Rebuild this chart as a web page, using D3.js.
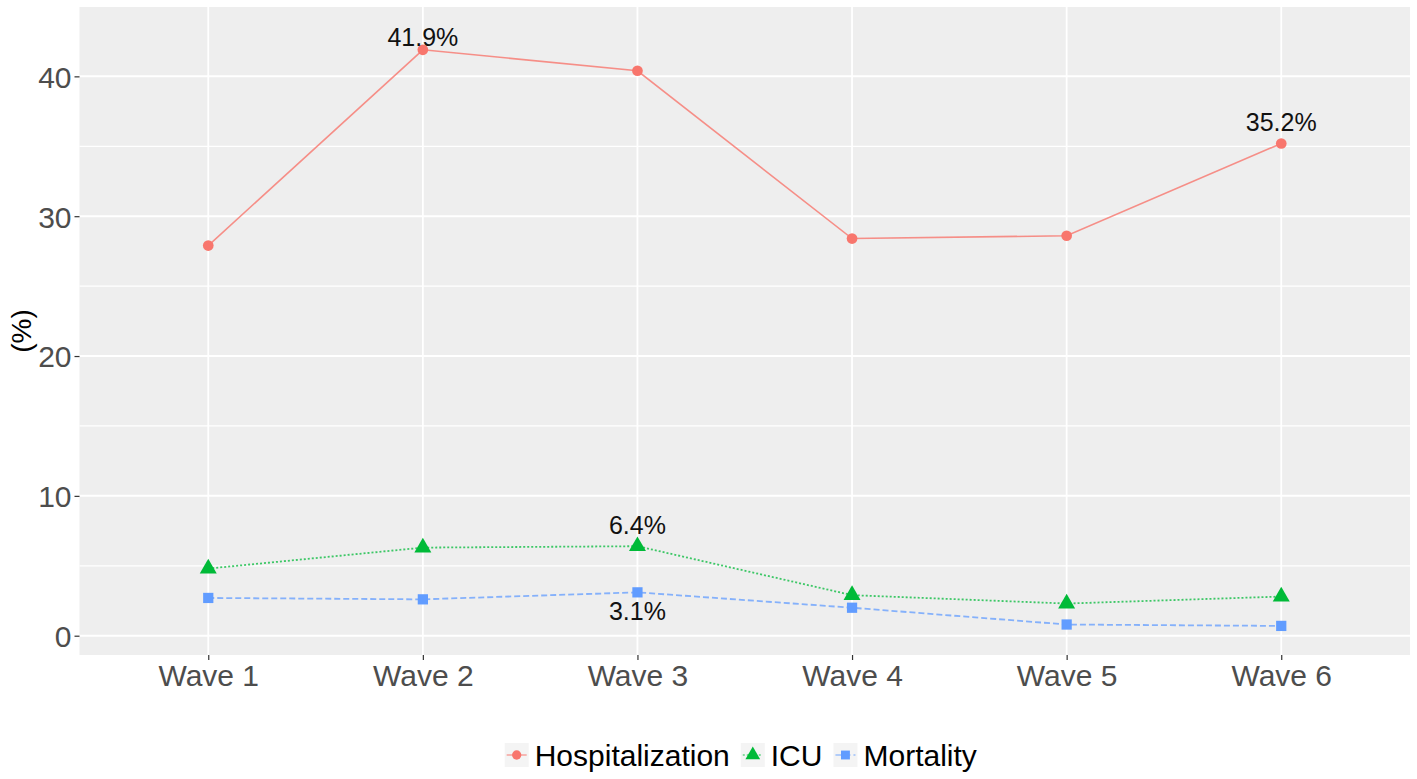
<!DOCTYPE html>
<html>
<head>
<meta charset="utf-8">
<script src="https://cdn.jsdelivr.net/npm/d3@7"></script>
<style>
  html, body { margin: 0; padding: 0; background: #ffffff; }
  svg { display: block; font-family: "Liberation Sans", Arial, sans-serif; }
</style>
</head>
<body>
<svg id="chart" width="1417" height="779"></svg>
<script>
// ---- data ----
const waves = ["Wave 1", "Wave 2", "Wave 3", "Wave 4", "Wave 5", "Wave 6"];
const hospitalization = [27.9, 41.9, 40.4, 28.4, 28.6, 35.2];
const icu = [4.8, 6.3, 6.4, 2.9, 2.3, 2.8];
const mortality = [2.7, 2.6, 3.1, 2.0, 0.8, 0.7];
const seriesNames = ["Hospitalization", "ICU", "Mortality"];
const yTicks = [0, 10, 20, 30, 40];
const yMinorTicks = [5, 15, 25, 35];
// labelled points: [series, wave]
const labelled = [["Hospitalization", "Wave 2"], ["Hospitalization", "Wave 6"], ["ICU", "Wave 3"], ["Mortality", "Wave 3"]];

// ---- layout ----
const panel = { left: 79.5, right: 1410, top: 7, bottom: 655 };
const svg = d3.select("#chart");

const x = d3.scalePoint().domain(waves).range([panel.left, panel.right]).padding(0.6);
const y = d3.scaleLinear().domain([-1.38, 44.96]).range([panel.bottom, panel.top]);

const colors = { "Hospitalization": "#F8766D", "ICU": "#00BA38", "Mortality": "#619CFF" };
const dashes = { "Hospitalization": null, "ICU": "2,2", "Mortality": "6,3" };
const shapes = { "Hospitalization": d3.symbolCircle, "ICU": d3.symbolTriangle, "Mortality": d3.symbolSquare };
const shapeSizes = { "Hospitalization": 90, "ICU": 125, "Mortality": 105 };
const valuesBy = { "Hospitalization": hospitalization, "ICU": icu, "Mortality": mortality };

// panel background
svg.append("rect")
  .attr("x", panel.left).attr("y", panel.top)
  .attr("width", panel.right - panel.left).attr("height", panel.bottom - panel.top)
  .attr("fill", "#EEEEEE");

// minor grid
svg.append("g").selectAll("line").data(yMinorTicks).join("line")
  .attr("x1", panel.left).attr("x2", panel.right)
  .attr("y1", d => y(d)).attr("y2", d => y(d))
  .attr("stroke", "#ffffff").attr("stroke-width", 1.2);

// major grid
svg.append("g").selectAll("line").data(yTicks).join("line")
  .attr("x1", panel.left).attr("x2", panel.right)
  .attr("y1", d => y(d)).attr("y2", d => y(d))
  .attr("stroke", "#ffffff").attr("stroke-width", 2);
svg.append("g").selectAll("line").data(waves).join("line")
  .attr("x1", d => x(d)).attr("x2", d => x(d))
  .attr("y1", panel.top).attr("y2", panel.bottom)
  .attr("stroke", "#ffffff").attr("stroke-width", 1.8);

// axes
const yAxis = d3.axisLeft(y).tickValues(yTicks).tickSize(5).tickPadding(3).tickFormat(d3.format("d"));
const gy = svg.append("g").attr("transform", `translate(${panel.left},0)`).call(yAxis);
gy.select(".domain").remove();
gy.selectAll(".tick line").attr("stroke", "#333333").attr("stroke-width", 1.2);
gy.selectAll(".tick text").attr("fill", "#4D4D4D").attr("font-size", 30)
  .attr("font-family", "'Liberation Sans', Arial, sans-serif").attr("dy", "0.36em");

const xAxis = d3.axisBottom(x).tickSize(5).tickPadding(4);
const gx = svg.append("g").attr("transform", `translate(0,${panel.bottom})`).call(xAxis);
gx.select(".domain").remove();
gx.selectAll(".tick line").attr("stroke", "#333333").attr("stroke-width", 1.2);
gx.selectAll(".tick text").attr("fill", "#4D4D4D").attr("font-size", 30)
  .attr("font-family", "'Liberation Sans', Arial, sans-serif").attr("dy", "0.72em");

// y axis title (partially cropped in original)
svg.append("text")
  .attr("transform", `translate(21,${(panel.top + panel.bottom) / 2}) rotate(-90)`)
  .attr("text-anchor", "middle").attr("dominant-baseline", "central")
  .attr("font-size", 28).attr("fill", "#000000")
  .text("(%)");

// lines and points
const line = d3.line().x((d, i) => x(waves[i])).y(d => y(d));
seriesNames.forEach(name => {
  const vals = valuesBy[name];
  svg.append("path").datum(vals)
    .attr("d", line)
    .attr("fill", "none")
    .attr("stroke", colors[name])
    .attr("stroke-width", name === "Hospitalization" ? 1.6 : 1.8)
    .attr("stroke-opacity", name === "Hospitalization" ? 0.8 : 0.75)
    .attr("stroke-dasharray", dashes[name]);
  svg.append("g").selectAll("path").data(vals).join("path")
    .attr("transform", (d, i) => `translate(${x(waves[i])},${y(d)})`)
    .attr("d", d3.symbol().type(shapes[name]).size(shapeSizes[name]))
    .attr("fill", colors[name]);
});

// value labels
labelled.forEach(([name, wave]) => {
  const i = waves.indexOf(wave);
  const v = valuesBy[name][i];
  const below = name === "Mortality";
  let ly = y(v) + (below ? 19 : -21);
  ly = Math.max(ly, panel.top + 30);
  svg.append("text")
    .attr("x", x(wave))
    .attr("y", ly)
    .attr("text-anchor", "middle").attr("dominant-baseline", "central")
    .attr("font-size", 25).attr("fill", "#111111")
    .text(v.toFixed(1) + "%");
});

// legend
const legend = svg.append("g");
const legendY = 755;
const items = [];
let cx = 0;
const keyW = 24, gapKeyText = 6, gapItems = 11;
const tmp = svg.append("text").attr("font-size", 30).attr("visibility", "hidden");
seriesNames.forEach(name => {
  tmp.text(name);
  const tw = tmp.node().getComputedTextLength();
  items.push({ name, start: cx, tw });
  cx += keyW + gapKeyText + tw + gapItems;
});
tmp.remove();
const totalW = cx - gapItems;
const legendX0 = (panel.left + panel.right) / 2 - totalW / 2 - 4;
items.forEach(it => {
  const gx0 = legendX0 + it.start;
  const g = legend.append("g").attr("transform", `translate(${gx0},${legendY})`);
  g.append("rect").attr("x", 0).attr("y", -keyW / 2).attr("width", keyW).attr("height", keyW)
    .attr("fill", "#F4F4F4");
  g.append("line").attr("x1", 2).attr("x2", keyW - 2).attr("y1", 0).attr("y2", 0)
    .attr("stroke", colors[it.name]).attr("stroke-width", 1.6).attr("stroke-opacity", 0.6)
    .attr("stroke-dasharray", dashes[it.name]);
  g.append("path").attr("transform", `translate(${keyW / 2},0)`)
    .attr("d", d3.symbol().type(shapes[it.name]).size(shapeSizes[it.name] * 0.75))
    .attr("fill", colors[it.name]);
  g.append("text").attr("x", keyW + gapKeyText).attr("y", 0)
    .attr("dominant-baseline", "central").attr("font-size", 30).attr("fill", "#000000")
    .text(it.name);
});
</script>
</body>
</html>
